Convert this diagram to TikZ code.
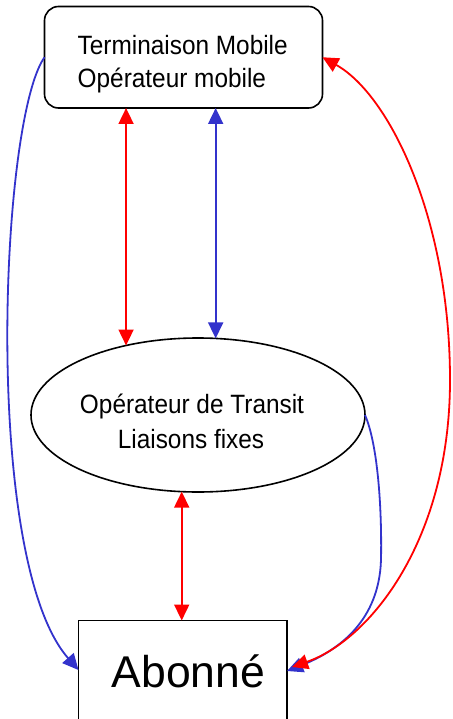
\documentclass[tikz,border=0pt]{standalone}
\usepackage{fontspec}
\setmainfont{Liberation Sans}
\newfontfamily\narrowsans[FakeStretch=0.92]{Liberation Sans}
\usetikzlibrary{shapes.geometric,arrows.meta,calc}
\definecolor{linkred}{RGB}{255,0,0}
\definecolor{linkblue}{RGB}{51,51,204}
\tikzset{
  shapebox/.style={draw=black, line width=1.6pt, inner sep=0pt, outer sep=0pt},
  label24/.style={anchor=base, inner sep=0pt, font=\narrowsans\fontsize{26.5}{30}\selectfont},
  labelwest/.style={label24, anchor=base west},
  redlink/.style={draw=linkred, line width=1.8pt},
  bluelink/.style={draw=linkblue, line width=1.8pt},
  both/.style={{Triangle[length=16pt,width=15pt]}-{Triangle[length=16pt,width=15pt]}},
  single/.style={-{Triangle[length=16pt,width=15pt]}}
}
\begin{document}
\begin{tikzpicture}[x=1pt,y=-1pt]
  \clip (0,0) rectangle (452,719);
  \fill[white] (0,0) rectangle (452,719);

  % the three entities
  \node[shapebox, rounded corners=14pt, minimum width=278pt, minimum height=101.5pt] (mob) at (183.5,57.25) {};
  \node[shapebox, ellipse, minimum width=334pt, minimum height=154pt] (tra) at (198,415) {};
  \node[shapebox, minimum width=208.5pt, minimum height=150pt] (abo) at (182.75,695.5) {};

  % their texts
  \node[labelwest] (mob1) at (77.5,54.5) {Terminaison Mobile};
  \node[labelwest] (mob2) at (77.5,88) {Opérateur mobile};
  \node[label24] (tra1) at (192,413) {Opérateur de Transit};
  \node[label24] (tra2) at (191,448) {Liaisons fixes};
  \node[anchor=base, inner sep=0pt, font=\fontsize{44.5}{50}\selectfont] (abot) at (188.5,687) {Abonné};

  % end points on the sides of the subscriber box
  \coordinate (aboL) at ($(abo.north west)+(0,49.5)$);
  \coordinate (aboR) at ($(abo.north east)+(0,50.5)$);
  \coordinate (aboRR) at ($(abo.north east)+(5,46.5)$);

  % straight links
  \draw[redlink, both] (tra.136.5 |- mob.south) -- (tra.136.5);
  \draw[bluelink, both] (tra.77.5 |- mob.south) -- (tra.77.5);
  \draw[redlink, both] (tra.258.9) -- (tra.258.9 |- abo.north);

  % curved links
  \draw[bluelink, single] (mob.west) .. controls (0,120) and (-18,560) .. (aboL);
  \draw[bluelink, single] (tra.east) .. controls (378,445) and (382,510) .. (381,560)
        .. controls (379,620) and (340,650) .. (aboR);
  \draw[redlink, both] (mob.east) .. controls (390,95) and (450,220) .. (450,380)
        .. controls (450,540) and (370,640) .. (aboRR);
\end{tikzpicture}
\end{document}
